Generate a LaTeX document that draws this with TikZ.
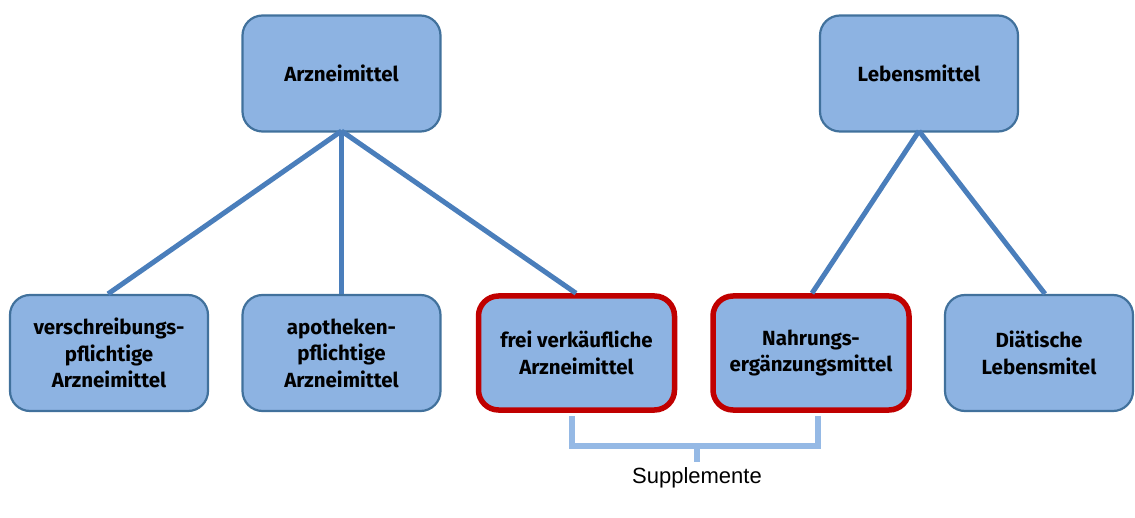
\documentclass[tikz,border=0pt]{standalone}
\usepackage{fontspec}
\setmainfont{Fira Sans}
\newfontfamily\arialfont{Liberation Sans}
\definecolor{boxfill}{HTML}{8DB3E2}
\definecolor{boxdraw}{HTML}{41719C}
\definecolor{linecol}{HTML}{4A7EBB}
\definecolor{redcol}{HTML}{C00000}
\definecolor{brackcol}{HTML}{95B9E5}
\tikzset{
  bx/.style={draw=boxdraw, line width=2.2pt, fill=boxfill, rounded corners=20pt,
    minimum width=#1, minimum height=116pt, align=center, inner sep=0pt,
    font=\fontsize{20.5}{26.5}\selectfont\bfseries},
  bx/.default=198pt,
  hl/.style={draw=redcol, line width=5.5pt},
  conn/.style={draw=linecol, line width=5pt},
  brk/.style={draw=brackcol, line width=6pt},
}
\begin{document}
\begin{tikzpicture}[x=1pt,y=-1pt]
\useasboundingbox (0,0) rectangle (1135,518);
\node[bx] (arz) at (341.5,73.5) {Arzneimittel};
\node[bx] (leb) at (919,73.5) {Lebensmittel};
\node[bx] (ver) at (109,353) {verschreibungs-\\pflichtige\\Arzneimittel};
\node[bx] (apo) at (341.5,353) {apotheken-\\pflichtige\\Arzneimittel};
\node[bx=196pt, hl, minimum height=114pt] (frei) at (576.5,353) {frei verkäufliche\\Arzneimittel};
\node[bx=196pt, hl, minimum height=114pt] (nah) at (811,353) {Nahrungs-\\ergänzungsmittel};
\node[bx=188pt] (dia) at (1039,353) {Diätische\\Lebensmitel};
\coordinate (arzb) at (341.5,131);
\coordinate (lebb) at (919,131);
\draw[conn] (arzb) -- (ver.north -| 108,0);
\draw[conn] (arzb) -- (apo.north);
\draw[conn] (arzb) -- (frei.north -| 576,0);
\draw[conn] (lebb) -- (nah.north -| 812,0);
\draw[conn] (lebb) -- (dia.north -| 1045,0);
\coordinate (b1) at (572,416);
\coordinate (b2) at (818,416);
\coordinate (bm) at (697,462);
\draw[brk] (b1) -- (572,446) -- (818,446) -- (b2);
\draw[brk] (697,446) -- (bm);
\node[font=\arialfont\fontsize{22}{24}\selectfont, anchor=center] (sup) at (697,478) {Supplemente};
\end{tikzpicture}
\end{document}
